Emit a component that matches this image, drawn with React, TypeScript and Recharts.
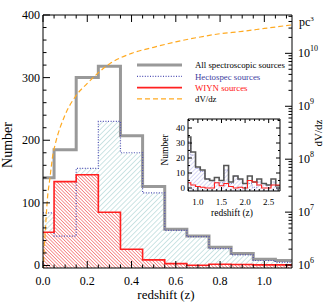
import React from "react";
import { ComposedChart, Area, Line, XAxis, YAxis, CartesianGrid } from "recharts";

// main histogram: left edge of each bin (stepAfter), last entry closes the final bin
const binEdges = [0, 0.05, 0.15, 0.25, 0.35, 0.45, 0.55, 0.65, 0.75, 0.85, 0.95, 1.05, 1.15];
const allSources = [140, 185, 300, 318, 207, 126, 58, 47, 29, 19, 10, 8, 8];
const hectospec = [84, 47, 155, 230, 180, 116, 56, 46, 27, 17, 8, 5, 5];
const wiyn = [53, 134, 145, 85, 26, 9, 3, 0.5, 2, 1.5, 1, 1, 1];

// comoving volume element read off the right (log) axis
const dvdzZ = [0.001, 0.003, 0.01, 0.02, 0.03, 0.046, 0.055, 0.1, 0.15, 0.2, 0.3, 0.4, 0.5, 0.6, 0.7, 0.8, 0.9, 1.0, 1.125];
const dvdzValues = [1.4e5, 1.2e6, 4e6, 1.8e7, 4e7, 1.3e8, 1.9e8, 6.9e8, 1.6e9, 2.7e9, 6.3e9, 1.0e10, 1.3e10, 1.65e10, 2.0e10, 2.35e10, 2.6e10, 2.95e10, 3.45e10];

// inset (high redshift tail)
const insetEdges = [0.75, 0.85, 0.95, 1.05, 1.15, 1.25, 1.35, 1.45, 1.55, 1.65, 1.75, 1.85, 1.95, 2.05, 2.15, 2.25, 2.35, 2.45, 2.55, 2.65, 2.75];
const insetAll = [34, 24, 14, 12, 6, 5, 7, 5, 15, 4, 8, 6, 3, 8, 4, 6, 3, 2, 6, 1.5, 1.5];
const insetHecto = [31, 22, 13, 11, 6, 5, 3.5, 3.5, 12, 3, 8, 5.5, 3, 3, 0.5, 4, 3, 2, 4, 0, 0];
const insetWiyn = [3.5, 2, 1, 0.5, 0, 0, 3.5, 1.5, 3, 1, 0, 0.5, 0, 5, 4, 2, 0, 0, 2, 2, 2];

// ticks
const xMajor = [0, 0.2, 0.4, 0.6, 0.8, 1.0];
const xTicks = [0, 0.05, 0.1, 0.15, 0.2, 0.25, 0.3, 0.35, 0.4, 0.45, 0.5, 0.55, 0.6, 0.65, 0.7, 0.75, 0.8, 0.85, 0.9, 0.95, 1.0, 1.05, 1.1];
const yMajor = [0, 100, 200, 300, 400];
const yTicks = [0, 20, 40, 60, 80, 100, 120, 140, 160, 180, 200, 220, 240, 260, 280, 300, 320, 340, 360, 380, 400];
const logMajor = [1e6, 1e7, 1e8, 1e9, 1e10];
const logTicks = [
  1e6, 2e6, 3e6, 4e6, 5e6, 6e6, 7e6, 8e6, 9e6,
  1e7, 2e7, 3e7, 4e7, 5e7, 6e7, 7e7, 8e7, 9e7,
  1e8, 2e8, 3e8, 4e8, 5e8, 6e8, 7e8, 8e8, 9e8,
  1e9, 2e9, 3e9, 4e9, 5e9, 6e9, 7e9, 8e9, 9e9,
  1e10, 2e10, 3e10, 4e10, 5e10,
];
const insetXMajor = [1.0, 1.5, 2.0, 2.5];
const insetXTicks = [0.8, 0.9, 1.0, 1.1, 1.2, 1.3, 1.4, 1.5, 1.6, 1.7, 1.8, 1.9, 2.0, 2.1, 2.2, 2.3, 2.4, 2.5, 2.6, 2.7];
const insetYMajor = [0, 10, 20, 30, 40];
const insetYTicks = [0, 5, 10, 15, 20, 25, 30, 35, 40, 45];

const mainRows = binEdges.map((z, i) => ({ z, all: allSources[i], hecto: hectospec[i], wiyn: wiyn[i] }));
const dvdzRows = dvdzZ.map((z, i) => ({ z, dv: dvdzValues[i] }));
const insetRows = insetEdges.map((z, i) => ({ z, all: insetAll[i], hecto: insetHecto[i], wiyn: insetWiyn[i] }));

const FONT = '"Liberation Serif", "Times New Roman", serif';
const isIn = (list: number[], v: number) => list.some((m) => Math.abs(m - v) < 1e-9);

const makeTick = (side: string, majors: number[], len: number, fontSize: number, fmt: ((v: number) => any) | null) =>
  (props: any) => {
    const { x, y, payload } = props;
    const v = payload.value;
    const major = isIn(majors, v);
    const l = major ? len : len / 2;
    let line = null;
    let label = null;
    if (side === "bottom") {
      line = <line x1={x} x2={x} y1={y} y2={y - l} stroke="#000" />;
      if (major && fmt) label = <text x={x} y={y + fontSize + 5} textAnchor="middle" fontSize={fontSize} fontFamily={FONT} fill="#000">{fmt(v)}</text>;
    } else if (side === "top") {
      line = <line x1={x} x2={x} y1={y} y2={y + l} stroke="#000" />;
    } else if (side === "left") {
      line = <line x1={x} x2={x + l} y1={y} y2={y} stroke="#000" />;
      if (major && fmt) label = <text x={x - 3} y={y + fontSize * 0.33} textAnchor="end" fontSize={fontSize} fontFamily={FONT} fill="#000">{fmt(v)}</text>;
    } else {
      line = <line x1={x} x2={x - l} y1={y} y2={y} stroke="#000" />;
      if (major && fmt) label = <text x={x + 6} y={y + fontSize * 0.33} fontSize={fontSize} fontFamily={FONT} fill="#000">{fmt(v)}</text>;
    }
    return <g>{line}{label}</g>;
  };

const powerLabel = (v: number) => (
  <>
    10<tspan dy={-6} fontSize={8}>{Math.round(Math.log10(v))}</tspan>
  </>
);

const MainChart = () => (
  <ComposedChart width={325} height={303} data={mainRows} margin={{ top: 14, right: 0, bottom: 0, left: 0 }}>
    <defs>
      <pattern id="hatchCyan" patternUnits="userSpaceOnUse" width="3.6" height="3.6" patternTransform="rotate(45)">
        <line x1="0" y1="0" x2="0" y2="3.6" stroke="#8fc4c4" strokeWidth="0.9" />
      </pattern>
      <pattern id="hatchRed" patternUnits="userSpaceOnUse" width="2.4" height="2.4" patternTransform="rotate(-45)">
        <rect width="2.4" height="2.4" fill="#fff" />
        <line x1="0" y1="0" x2="0" y2="2.4" stroke="#f03030" strokeWidth="1" />
      </pattern>
    </defs>
    <XAxis dataKey="z" type="number" domain={[0, 1.125]} allowDataOverflow ticks={xTicks} interval={0}
      tickSize={0} tickMargin={0} height={35} axisLine={{ stroke: "#000" }}
      tick={makeTick("bottom", xMajor, 7, 12, (v) => v.toFixed(1))} />
    <XAxis xAxisId="top" orientation="top" dataKey="z" type="number" domain={[0, 1.125]} allowDataOverflow ticks={xTicks}
      interval={0} tickSize={0} tickMargin={0} height={1} axisLine={{ stroke: "#000" }}
      tick={makeTick("top", xMajor, 7, 12, null)} />
    <YAxis yAxisId="left" type="number" domain={[-4, 400]} allowDataOverflow ticks={yTicks} interval={0}
      tickSize={0} tickMargin={0} width={43} axisLine={{ stroke: "#000" }}
      tick={makeTick("left", yMajor, 7, 12, (v) => String(v))} />
    <YAxis yAxisId="right" orientation="right" type="number" scale="log" domain={[8.8e5, 5.3e10]} allowDataOverflow
      ticks={logTicks} interval={0} tickSize={0} tickMargin={0} width={33} axisLine={{ stroke: "#000" }}
      tick={makeTick("right", logMajor, 7, 12, powerLabel)} />
    <Area yAxisId="left" dataKey="hecto" type="stepAfter" fill="url(#hatchCyan)" fillOpacity={1} stroke="none"
      baseValue="dataMin" dot={false} activeDot={false} isAnimationActive={false} />
    <Area yAxisId="left" dataKey="wiyn" type="stepAfter" fill="url(#hatchRed)" fillOpacity={1} stroke="none"
      baseValue="dataMin" dot={false} activeDot={false} isAnimationActive={false} />
    <Line yAxisId="left" dataKey="all" type="stepAfter" stroke="#999" strokeWidth={3} dot={false} activeDot={false}
      isAnimationActive={false} />
    <Line yAxisId="left" dataKey="hecto" type="stepAfter" stroke="#5050b4" strokeWidth={1.2} strokeDasharray="1 1.6"
      dot={false} activeDot={false} isAnimationActive={false} />
    <Line yAxisId="left" dataKey="wiyn" type="stepAfter" stroke="#ff2020" strokeWidth={1.6} dot={false} activeDot={false}
      isAnimationActive={false} />
    <Line yAxisId="right" data={dvdzRows} dataKey="dv" type="monotone" stroke="#ffaa22" strokeWidth={1.2}
      strokeDasharray="5 3" dot={false} activeDot={false} isAnimationActive={false} />
  </ComposedChart>
);

const InsetChart = () => (
  <ComposedChart width={128} height={110} data={insetRows} margin={{ top: 7, right: 2, bottom: 0, left: 0 }}>
    <defs>
      <pattern id="hatchBlue" patternUnits="userSpaceOnUse" width="3" height="3" patternTransform="rotate(45)">
        <line x1="0" y1="0" x2="0" y2="3" stroke="#9a9ae6" strokeWidth="0.8" />
      </pattern>
    </defs>
    <CartesianGrid fill="#fff" horizontal={false} vertical={false} yAxisId="l" />
    <XAxis dataKey="z" type="number" domain={[0.79, 2.74]} allowDataOverflow ticks={insetXTicks} interval={0}
      tickSize={0} tickMargin={0} height={30} axisLine={{ stroke: "#000" }}
      tick={makeTick("bottom", insetXMajor, 4, 9, (v) => v.toFixed(1))} />
    <XAxis xAxisId="top" orientation="top" dataKey="z" type="number" domain={[0.79, 2.74]} allowDataOverflow
      ticks={insetXTicks} interval={0} tickSize={0} tickMargin={0} height={1} axisLine={{ stroke: "#000" }}
      tick={makeTick("top", insetXMajor, 4, 9, null)} />
    <YAxis yAxisId="l" type="number" domain={[-2, 46]} allowDataOverflow ticks={insetYTicks} interval={0}
      tickSize={0} tickMargin={0} width={33} axisLine={{ stroke: "#000" }}
      tick={makeTick("left", insetYMajor, 4, 9, (v) => String(v))} />
    <YAxis yAxisId="r" orientation="right" type="number" domain={[-2, 46]} allowDataOverflow ticks={insetYTicks}
      interval={0} tickSize={0} tickMargin={0} width={1} axisLine={{ stroke: "#000" }}
      tick={makeTick("right", insetYMajor, 4, 9, null)} />
    <Area yAxisId="l" dataKey="hecto" type="stepAfter" fill="url(#hatchBlue)" fillOpacity={1} stroke="#6060c0"
      strokeWidth={0.8} strokeDasharray="1 1.2" baseValue="dataMin" dot={false} activeDot={false} isAnimationActive={false} />
    <Line yAxisId="l" dataKey="all" type="stepAfter" stroke="#555" strokeWidth={1.6} dot={false} activeDot={false}
      isAnimationActive={false} />
    <Line yAxisId="l" dataKey="wiyn" type="stepAfter" stroke="#ff2020" strokeWidth={1.1} dot={false} activeDot={false}
      isAnimationActive={false} />
  </ComposedChart>
);

const legendItems = [
  { label: "All spectroscopic sources", color: "#999", width: 3, dash: undefined, text: "#000" },
  { label: "Hectospec sources", color: "#5050b4", width: 1.2, dash: "1 1.6", text: "#4040a0" },
  { label: "WIYN sources", color: "#ff2020", width: 1.6, dash: undefined, text: "#ff1010" },
  { label: "dV/dz", color: "#ffaa22", width: 1.2, dash: "5 3", text: "#000" },
];

export default function App() {
  return (
    <div style={{ position: "absolute", left: 0, top: 0, width: 325, height: 303, background: "#fff", fontFamily: FONT }}>
      <MainChart />
      <div style={{ position: "absolute", left: 155, top: 111, width: 128, height: 110 }}>
        <InsetChart />
      </div>
      <svg width={325} height={303} style={{ position: "absolute", left: 0, top: 0, pointerEvents: "none" }}
        fontFamily={FONT}>
        {legendItems.map((it, i) => (
          <g key={it.label}>
            <line x1={137} x2={182} y1={65 + i * 11.3} y2={65 + i * 11.3} stroke={it.color} strokeWidth={it.width}
              strokeDasharray={it.dash} />
            <text x={195} y={68.3 + i * 11.3} fontSize={8.8} fill={it.text}>{it.label}</text>
          </g>
        ))}
        <text transform="translate(12,145) rotate(-90)" textAnchor="middle" fontSize={14}>Number</text>
        <text x={166} y={299} textAnchor="middle" fontSize={13}>redshift (z)</text>
        <text transform="translate(322,133) rotate(-90)" textAnchor="middle" fontSize={11}>dV/dz</text>
        <text x={299} y={26} fontSize={12}>pc<tspan dy={-5} fontSize={7}>3</tspan></text>
        <text transform="translate(168,150) rotate(-90)" textAnchor="middle" fontSize={9.5}>Number</text>
        <text x={232} y={216} textAnchor="middle" fontSize={9.5}>redshift (z)</text>
      </svg>
    </div>
  );
}
